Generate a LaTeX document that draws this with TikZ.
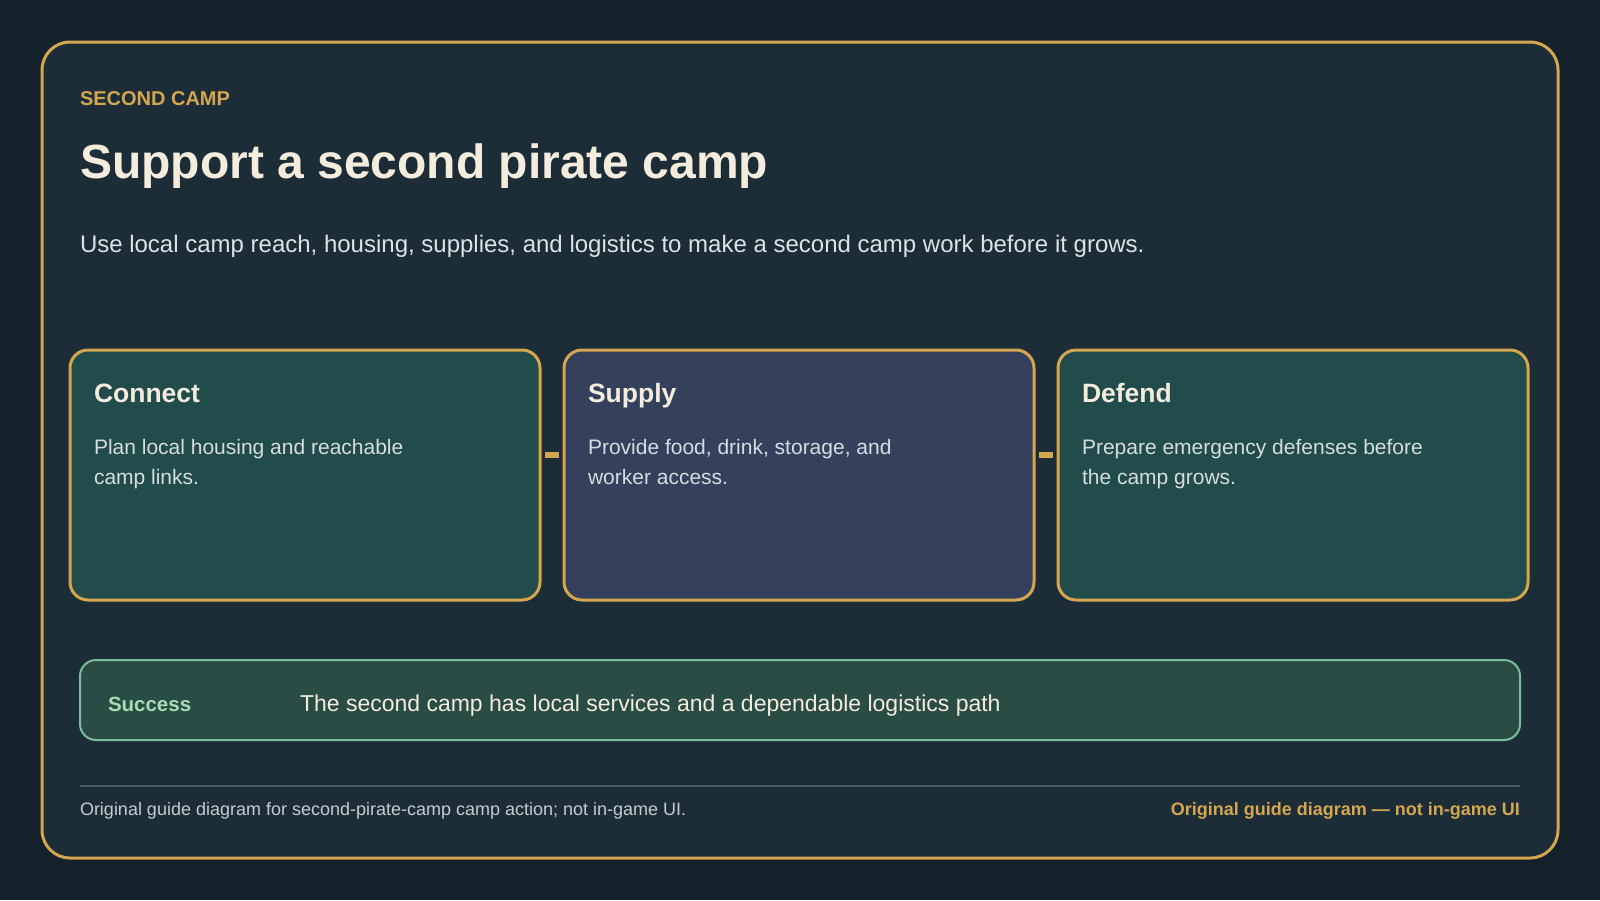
\documentclass[tikz,border=0pt]{standalone}
\usepackage{fontspec}
\setmainfont{Liberation Sans}
\definecolor{bgouter}{HTML}{14202A}
\definecolor{panelfill}{HTML}{1C2D37}
\definecolor{gold}{HTML}{D4A64F}
\definecolor{tealcard}{HTML}{224B4B}
\definecolor{slatecard}{HTML}{34405C}
\definecolor{succfill}{HTML}{294C44}
\definecolor{succline}{HTML}{7ABE9B}
\definecolor{succlabel}{HTML}{A8DCB4}
\definecolor{cream}{HTML}{F4ECDC}
\definecolor{subtext}{HTML}{DCE3E6}
\definecolor{bodytext}{HTML}{D5DDE0}
\definecolor{sepline}{HTML}{4A5B66}
\definecolor{foottext}{HTML}{C5CCD0}
\tikzset{
  txt/.style={anchor=base west, inner sep=0pt, outer sep=0pt},
  panelbox/.style={draw=gold, line width=3pt, fill=panelfill, rounded corners=28pt,
    minimum width=1516pt, minimum height=816pt, inner sep=0pt, outer sep=0pt},
  cardbox/.style={draw=gold, line width=3pt, rounded corners=18pt,
    minimum width=470pt, minimum height=250pt, inner sep=0pt, outer sep=0pt},
  cardtitle/.style={txt, text=cream, font=\fontsize{26.5}{32}\selectfont\bfseries},
  cardbody/.style={txt, text=bodytext, font=\fontsize{21}{30.5}\selectfont},
  linkbar/.style={draw=gold, line width=5.5pt},
  succbox/.style={draw=succline, line width=2pt, fill=succfill, rounded corners=16pt,
    minimum width=1440pt, minimum height=80pt, inner sep=0pt, outer sep=0pt},
}
\begin{document}
\begin{tikzpicture}[x=1pt, y=-1pt]
\useasboundingbox (0,0) rectangle (1600,900);
\fill[bgouter] (0,0) rectangle (1600,900);
\node[panelbox] (panel) at (800,450) {};
% header
\node[txt, text=gold, font=\fontsize{20}{24}\selectfont\bfseries] (kicker) at (80,105) {SECOND CAMP};
\node[txt, text=cream, font=\fontsize{48}{56}\selectfont\bfseries] (title) at (80,178) {Support a second pirate camp};
\node[txt, text=subtext, font=\fontsize{24}{30}\selectfont] (subtitle) at (80,252) {Use local camp reach, housing, supplies, and logistics to make a second camp work before it grows.};
% cards
\node[cardbox, fill=tealcard] (c1) at (305,475) {};
\node[cardbox, fill=slatecard] (c2) at (799,475) {};
\node[cardbox, fill=tealcard] (c3) at (1293,475) {};
\node[cardtitle] (t1) at (94,402) {Connect};
\node[cardtitle] (t2) at (588,402) {Supply};
\node[cardtitle] (t3) at (1082,402) {Defend};
\node[cardbody] (b1) at (94,454) {\parbox[t]{420pt}{Plan local housing and reachable\\camp links.}};
\node[cardbody] (b2) at (588,454) {\parbox[t]{420pt}{Provide food, drink, storage, and\\worker access.}};
\node[cardbody] (b3) at (1082,454) {\parbox[t]{420pt}{Prepare emergency defenses before\\the camp grows.}};
\draw[linkbar] ([shift={(5pt,20pt)}]c1.east) -- ([shift={(-5pt,20pt)}]c2.west);
\draw[linkbar] ([shift={(5pt,20pt)}]c2.east) -- ([shift={(-5pt,20pt)}]c3.west);
% success
\node[succbox] (succ) at (800,700) {};
\node[txt, text=succlabel, font=\fontsize{20.5}{24}\selectfont\bfseries] (succlab) at (108,711) {Success};
\node[txt, text=cream, font=\fontsize{23}{28}\selectfont] (succtext) at (300,711) {The second camp has local services and a dependable logistics path};
% footer
\coordinate (sepL) at (80,786);
\coordinate (sepR) at (1520,786);
\draw[sepline, line width=2pt] (sepL) -- (sepR);
\node[txt, text=foottext, font=\fontsize{18}{22}\selectfont] (footL) at (80,815) {Original guide diagram for second-pirate-camp camp action; not in-game UI.};
\node[anchor=base east, inner sep=0pt, text=gold, font=\fontsize{18}{22}\selectfont\bfseries] (footR) at (1520,815) {Original guide diagram — not in-game UI};
\end{tikzpicture}
\end{document}
